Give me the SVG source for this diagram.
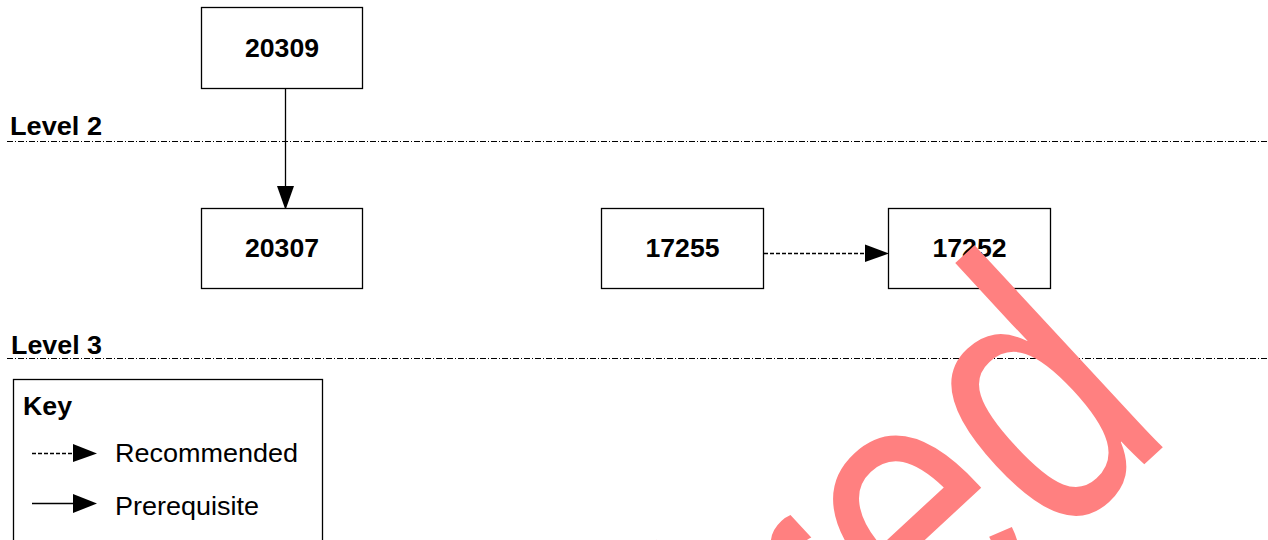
<svg xmlns="http://www.w3.org/2000/svg" width="1268" height="540" viewBox="0 0 1268 540">
<style>
.box{fill:#fff;stroke:#000;stroke-width:1.3}
.lbl{font-family:"Liberation Sans",Arial,sans-serif;font-weight:bold;font-size:26px;text-anchor:middle;fill:#000}
.lvl{font-family:"Liberation Sans",Arial,sans-serif;font-weight:bold;font-size:25px;fill:#000}
.key{font-family:"Liberation Sans",Arial,sans-serif;font-size:26px;fill:#000}
.sep{stroke:#000;stroke-width:1;stroke-dasharray:6 2 1 2;fill:none}
.pre{stroke:#000;stroke-width:1.3;fill:none}
.rec{stroke:#000;stroke-width:1.3;stroke-dasharray:4 2;fill:none}
.head{fill:#000}
.wm{font-family:"Liberation Sans",Arial,sans-serif;font-size:300px;fill:#FF8080;text-anchor:end}
</style>
<rect width="1268" height="540" fill="#fff"/>
<g id="levels">
<text class="lvl" x="10" y="135" textLength="92" lengthAdjust="spacingAndGlyphs">Level 2</text>
<line class="sep" x1="7" y1="141.5" x2="1268" y2="141.5"/>
<text class="lvl" x="11" y="353.5" textLength="91" lengthAdjust="spacingAndGlyphs">Level 3</text>
<line class="sep" x1="7" y1="358.5" x2="1268" y2="358.5"/>
</g>
<g id="connectors">
<line class="pre" x1="285.5" y1="88" x2="285.5" y2="187"/>
<polygon class="head" points="277,186 294,186 285.5,210"/>
<line class="rec" x1="764" y1="253.5" x2="866" y2="253.5"/>
<polygon class="head" points="865,244.5 865,262 889,253.5"/>
</g>
<g id="n20309"><rect class="box" x="201.5" y="7.5" width="161" height="81"/><text class="lbl" x="282" y="57" textLength="74" lengthAdjust="spacingAndGlyphs">20309</text></g>
<g id="n20307"><rect class="box" x="201.5" y="208.5" width="161" height="80"/><text class="lbl" x="282" y="257" textLength="74" lengthAdjust="spacingAndGlyphs">20307</text></g>
<g id="n17255"><rect class="box" x="601.5" y="208.5" width="162" height="80"/><text class="lbl" x="682.5" y="257" textLength="74" lengthAdjust="spacingAndGlyphs">17255</text></g>
<g id="n17252"><rect class="box" x="888.5" y="208.5" width="162" height="80"/><text class="lbl" x="969.5" y="257" textLength="74" lengthAdjust="spacingAndGlyphs">17252</text></g>
<g id="key">
<rect class="box" x="13.5" y="379.5" width="309" height="200"/>
<text class="lvl" x="23" y="415" textLength="49" lengthAdjust="spacingAndGlyphs">Key</text>
<line class="rec" x1="32" y1="453.5" x2="74" y2="453.5"/>
<polygon class="head" points="73,444 73,462 97,453.5"/>
<text class="key" x="115" y="462" textLength="183" lengthAdjust="spacingAndGlyphs">Recommended</text>
<line class="pre" x1="32" y1="503.5" x2="74" y2="503.5"/>
<polygon class="head" points="73,494 73,513 97,503.5"/>
<text class="key" x="115" y="515" textLength="144" lengthAdjust="spacingAndGlyphs">Prerequisite</text>
</g>
<text class="wm" transform="translate(1177,434) rotate(-42.8) scale(1,1.27)" x="0" y="0">Retired</text>
</svg>
